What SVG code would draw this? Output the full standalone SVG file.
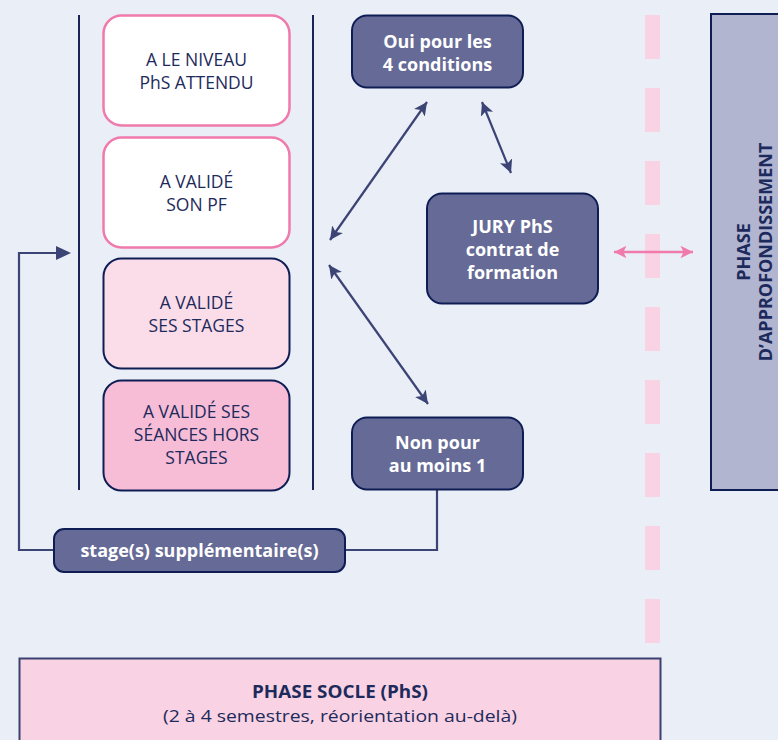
<svg xmlns="http://www.w3.org/2000/svg" width="778" height="740" viewBox="0 0 778 740">
<defs>
<style>
.t{font-family:"Open Sans","Noto Sans","Liberation Sans",sans-serif;font-size:17.5px;fill:#1d2a5c;text-anchor:middle}
.w{font-family:"Open Sans","Noto Sans","Liberation Sans",sans-serif;font-size:18px;font-weight:bold;fill:#ffffff;text-anchor:middle}
.r{font-family:"Open Sans","Noto Sans","Liberation Sans",sans-serif;font-size:18px;font-weight:bold;fill:#1d2a5c;text-anchor:middle}
.dark{fill:#666a96;stroke:#0f1d55;stroke-width:2}
.pinkb{stroke:#ef7aab;stroke-width:2.5;fill:#ffffff}
.con{fill:none;stroke:#3b4475;stroke-width:2.2}
.vl{stroke:#1a2456;stroke-width:2}
</style>
<marker id="ah" viewBox="0 0 10 10" refX="10" refY="5" markerWidth="6" markerHeight="6" orient="auto-start-reverse" markerUnits="strokeWidth">
<path d="M0,0 L10,5 L0,10 L2.5,5 z" fill="#3b4475"/>
</marker>
<marker id="ahp" viewBox="0 0 10 10" refX="10" refY="5" markerWidth="7" markerHeight="5" orient="auto-start-reverse" markerUnits="strokeWidth">
<path d="M0,0 L10,5 L0,10 L2.5,5 z" fill="#ef7aab"/>
</marker>
</defs>
<rect x="0" y="0" width="778" height="740" fill="#eaeff7"/>

<g id="dashline">
<line x1="652.5" y1="15" x2="652.5" y2="643" stroke="#f9d3e3" stroke-width="15" stroke-dasharray="44 29"/>
</g>

<g id="brackets">
<line class="vl" x1="79" y1="15" x2="79" y2="490"/>
<line class="vl" x1="313" y1="15" x2="313" y2="490"/>
</g>

<g id="connectors">
<polyline class="con" points="437,490 437,550 345,550"/>
<polyline class="con" points="54,550 19,550 19,253 58,253"/>
<path d="M56,246 L71,253 L56,260 z" fill="#3b4475"/>
<line class="con" x1="330" y1="240" x2="427" y2="102" marker-start="url(#ah)" marker-end="url(#ah)"/>
<line class="con" x1="482" y1="102" x2="511" y2="173" marker-start="url(#ah)" marker-end="url(#ah)"/>
<line class="con" x1="329" y1="265" x2="428" y2="404" marker-start="url(#ah)" marker-end="url(#ah)"/>
<line x1="614" y1="252" x2="693" y2="252" stroke="#ef7aab" stroke-width="2.5" marker-start="url(#ahp)" marker-end="url(#ahp)"/>
</g>

<g id="niveau">
<rect class="pinkb" x="103.5" y="15.5" width="186" height="110" rx="18"/>
<text class="t" x="196.5" y="66">A LE NIVEAU</text>
<text class="t" x="196.5" y="89">PhS ATTENDU</text>
</g>
<g id="pf">
<rect class="pinkb" x="103.5" y="137.5" width="186" height="110" rx="18"/>
<text class="t" x="196.5" y="188">A VALIDÉ</text>
<text class="t" x="196.5" y="211">SON PF</text>
</g>
<g id="stages">
<rect x="103.5" y="258.5" width="186" height="110" rx="18" fill="#fbdde9" stroke="#0f1d55" stroke-width="2"/>
<text class="t" x="196.5" y="309">A VALIDÉ</text>
<text class="t" x="196.5" y="332">SES STAGES</text>
</g>
<g id="seances">
<rect x="103.5" y="380.5" width="186" height="110" rx="18" fill="#f7bdd6" stroke="#0f1d55" stroke-width="2"/>
<text class="t" x="196.5" y="418">A VALIDÉ SES</text>
<text class="t" x="196.5" y="441">SÉANCES HORS</text>
<text class="t" x="196.5" y="464">STAGES</text>
</g>

<g id="oui">
<rect class="dark" x="352" y="15.5" width="171" height="72" rx="15"/>
<text class="w" x="437.5" y="48">Oui pour les</text>
<text class="w" x="437.5" y="71">4 conditions</text>
</g>
<g id="jury">
<rect class="dark" x="427" y="193.5" width="171" height="110" rx="15"/>
<text class="w" x="512.5" y="233">JURY PhS</text>
<text class="w" x="512.5" y="256">contrat de</text>
<text class="w" x="512.5" y="279">formation</text>
</g>
<g id="non">
<rect class="dark" x="352" y="417.5" width="171" height="72" rx="15"/>
<text class="w" x="437.5" y="449">Non pour</text>
<text class="w" x="437.5" y="472">au moins 1</text>
</g>
<g id="supp">
<rect class="dark" x="54" y="529" width="291" height="43" rx="10"/>
<text class="w" x="199.5" y="557">stage(s) supplémentaire(s)</text>
</g>

<g id="approf">
<rect x="711" y="14" width="80" height="476" fill="#b1b5d0" stroke="#0f1d55" stroke-width="2"/>
<text class="r" transform="translate(750,252) rotate(-90)">PHASE</text>
<text class="r" transform="translate(772,252) rotate(-90)">D’APPROFONDISSEMENT</text>
</g>

<g id="socle">
<rect x="19.5" y="658.5" width="641" height="100" fill="#f9d3e3" stroke="#3a4170" stroke-width="2"/>
<text x="340" y="698" textLength="176" lengthAdjust="spacingAndGlyphs" style="font-family:'Open Sans','Noto Sans',sans-serif;font-size:17px;font-weight:bold;fill:#1d2a5c;text-anchor:middle">PHASE SOCLE (PhS)</text>
<text x="340" y="722" textLength="354" lengthAdjust="spacingAndGlyphs" style="font-family:'Open Sans','Noto Sans',sans-serif;font-size:17px;fill:#1d2a5c;text-anchor:middle">(2 à 4 semestres, réorientation au-delà)</text>
</g>
</svg>
